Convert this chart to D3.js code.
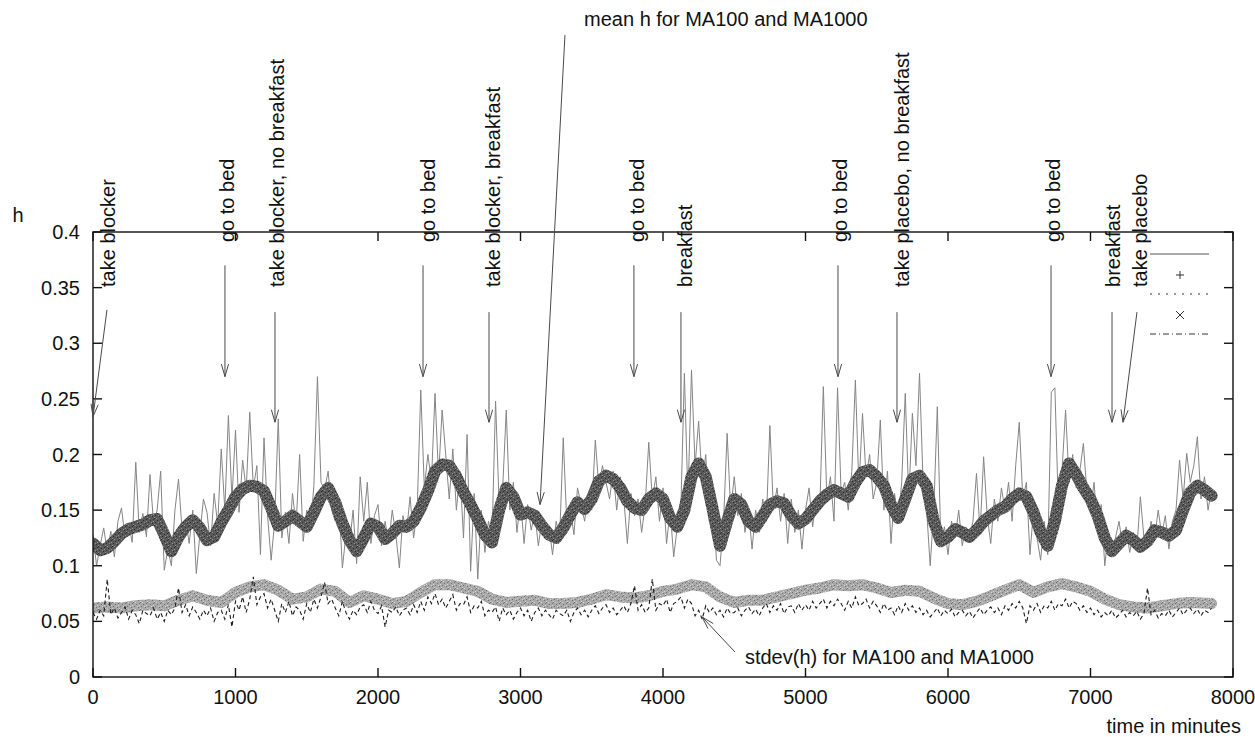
<!DOCTYPE html>
<html><head><meta charset="utf-8">
<script src="https://cdn.jsdelivr.net/npm/d3@7"></script>
<style>
html,body{margin:0;padding:0;background:#fff;}
svg{display:block;font-family:"Liberation Sans",Arial,Helvetica,sans-serif;}
</style></head><body>
<svg id="chart" width="1255" height="737"></svg>
<script>
// ---- axis ticks ----
const xTicks = [0, 1000, 2000, 3000, 4000, 5000, 6000, 7000, 8000];
const yTicks = [0, 0.05, 0.1, 0.15, 0.2, 0.25, 0.3, 0.35, 0.4];

// ---- series (h values, sampled every `step` minutes from t = 0) ----
const meanMA100Step = 25;
const meanMA100 = [
0.128,0.100,0.118,0.134, 0.113,0.131,0.108,0.140, 0.152,0.125,0.138,0.121, 0.193,0.130,0.147,0.126,
0.182,0.138,0.150,0.185, 0.096,0.115,0.100,0.150, 0.178,0.132,0.142,0.120, 0.150,0.093,0.128,0.160,
0.148,0.118,0.165,0.137, 0.205,0.150,0.235,0.160, 0.222,0.148,0.195,0.168, 0.238,0.170,0.190,0.110,
0.215,0.145,0.105,0.140, 0.232,0.125,0.148,0.120, 0.165,0.136,0.200,0.122, 0.150,0.132,0.172,0.270,
0.175,0.168,0.185,0.150, 0.140,0.160,0.098,0.128, 0.118,0.150,0.102,0.180, 0.140,0.175,0.120,0.145,
0.155,0.118,0.140,0.120, 0.150,0.128,0.098,0.145, 0.130,0.162,0.125,0.150, 0.258,0.170,0.200,0.176,
0.255,0.180,0.240,0.200, 0.160,0.205,0.150,0.185, 0.125,0.218,0.095,0.165, 0.088,0.150,0.112,0.140,
0.125,0.248,0.155,0.170, 0.240,0.150,0.175,0.130, 0.160,0.120,0.155,0.132, 0.148,0.118,0.140,0.125,
0.135,0.110,0.140,0.126, 0.215,0.138,0.150,0.128, 0.170,0.155,0.140,0.165, 0.150,0.213,0.170,0.190,
0.175,0.160,0.185,0.150, 0.180,0.160,0.120,0.165, 0.145,0.160,0.130,0.155, 0.211,0.160,0.180,0.140,
0.170,0.120,0.150,0.108, 0.135,0.150,0.273,0.160, 0.276,0.190,0.230,0.175, 0.200,0.140,0.165,0.105,
0.100,0.140,0.219,0.150, 0.180,0.145,0.165,0.130, 0.150,0.115,0.150,0.130, 0.160,0.140,0.226,0.150,
0.170,0.140,0.165,0.120, 0.160,0.130,0.150,0.115, 0.150,0.170,0.135,0.160, 0.150,0.261,0.160,0.180,
0.140,0.260,0.165,0.175, 0.150,0.185,0.267,0.170, 0.237,0.180,0.200,0.160, 0.175,0.231,0.150,0.185,
0.120,0.165,0.140,0.175, 0.255,0.160,0.237,0.190, 0.273,0.175,0.150,0.100, 0.150,0.243,0.120,0.135,
0.110,0.140,0.125,0.150, 0.118,0.135,0.125,0.140, 0.183,0.130,0.198,0.145, 0.120,0.160,0.140,0.170,
0.150,0.175,0.140,0.190, 0.229,0.160,0.175,0.110, 0.150,0.125,0.105,0.140, 0.110,0.256,0.260,0.150,
0.185,0.240,0.175,0.200, 0.170,0.185,0.210,0.165, 0.150,0.175,0.130,0.155, 0.100,0.130,0.108,0.125,
0.140,0.118,0.135,0.112, 0.130,0.115,0.162,0.125, 0.118,0.140,0.125,0.150, 0.128,0.145,0.115,0.140,
0.150,0.195,0.160,0.201, 0.175,0.190,0.216,0.160, 0.180,0.150,0.170
];

const meanMA1000Step = 50;
const meanMA1000 = [
0.120,0.114,0.116,0.122,0.129,0.133,0.135,0.137,0.141,0.142,0.128,0.113,0.126,0.135,0.141,0.134,
0.123,0.126,0.139,0.150,0.162,0.169,0.172,0.171,0.167,0.152,0.136,0.140,0.145,0.140,0.135,0.148,
0.162,0.170,0.157,0.138,0.123,0.113,0.125,0.138,0.135,0.124,0.129,0.136,0.135,0.140,0.152,0.167,
0.185,0.191,0.190,0.180,0.166,0.155,0.142,0.128,0.121,0.150,0.170,0.162,0.146,0.148,0.145,0.136,
0.128,0.125,0.134,0.146,0.157,0.151,0.160,0.176,0.181,0.178,0.170,0.158,0.152,0.150,0.160,0.165,
0.160,0.143,0.135,0.150,0.180,0.192,0.180,0.150,0.118,0.140,0.160,0.155,0.140,0.135,0.145,0.155,
0.158,0.156,0.145,0.138,0.142,0.150,0.158,0.164,0.168,0.165,0.162,0.175,0.184,0.186,0.180,0.172,
0.155,0.143,0.160,0.178,0.181,0.172,0.140,0.122,0.126,0.133,0.130,0.126,0.132,0.140,0.145,0.150,
0.153,0.160,0.165,0.162,0.148,0.130,0.118,0.140,0.172,0.192,0.182,0.170,0.160,0.145,0.125,0.113,
0.120,0.127,0.123,0.117,0.122,0.132,0.130,0.127,0.132,0.150,0.166,0.172,0.168,0.163
];

const stdevMA100Step = 25;
const stdevMA100 = [
0.058,0.052,0.060,0.055, 0.088,0.056,0.062,0.053, 0.058,0.063,0.052,0.060, 0.056,0.048,0.060,0.057,
0.055,0.062,0.052,0.058, 0.050,0.060,0.056,0.062, 0.080,0.058,0.065,0.055, 0.063,0.058,0.052,0.060,
0.055,0.062,0.050,0.058, 0.060,0.052,0.065,0.045, 0.068,0.060,0.072,0.058, 0.070,0.090,0.065,0.072,
0.075,0.062,0.070,0.060, 0.050,0.066,0.058,0.068, 0.055,0.063,0.060,0.052, 0.066,0.058,0.070,0.062,
0.072,0.085,0.066,0.070, 0.062,0.055,0.068,0.058, 0.052,0.060,0.056,0.063, 0.065,0.058,0.068,0.060,
0.057,0.064,0.045,0.060, 0.058,0.063,0.055,0.060, 0.062,0.056,0.065,0.058, 0.068,0.060,0.072,0.066,
0.075,0.065,0.070,0.062, 0.068,0.074,0.060,0.066, 0.065,0.072,0.058,0.064, 0.062,0.068,0.055,0.060,
0.058,0.063,0.050,0.062, 0.056,0.060,0.052,0.058, 0.062,0.055,0.060,0.050, 0.058,0.062,0.055,0.060,
0.056,0.052,0.060,0.057, 0.055,0.060,0.050,0.058, 0.062,0.056,0.060,0.054, 0.060,0.064,0.057,0.062,
0.065,0.058,0.062,0.056, 0.060,0.064,0.058,0.066, 0.082,0.060,0.065,0.058, 0.062,0.088,0.060,0.066,
0.064,0.070,0.058,0.066, 0.068,0.072,0.062,0.070, 0.066,0.055,0.060,0.052, 0.064,0.058,0.062,0.056,
0.060,0.054,0.062,0.057, 0.058,0.062,0.055,0.060, 0.063,0.057,0.061,0.055, 0.062,0.066,0.058,0.064,
0.060,0.066,0.057,0.063, 0.064,0.058,0.066,0.060, 0.065,0.060,0.068,0.062, 0.066,0.070,0.062,0.068,
0.064,0.070,0.066,0.060, 0.068,0.062,0.072,0.064, 0.066,0.070,0.062,0.068, 0.064,0.058,0.066,0.060,
0.062,0.056,0.064,0.058, 0.066,0.060,0.064,0.058, 0.062,0.056,0.060,0.054, 0.058,0.062,0.055,0.060,
0.057,0.061,0.054,0.058, 0.060,0.055,0.059,0.053, 0.058,0.062,0.056,0.060, 0.063,0.058,0.062,0.056,
0.064,0.060,0.066,0.062, 0.068,0.062,0.048,0.064, 0.060,0.066,0.058,0.064, 0.062,0.068,0.060,0.066,
0.064,0.070,0.062,0.068, 0.066,0.060,0.064,0.058, 0.062,0.056,0.060,0.054, 0.058,0.055,0.060,0.053,
0.056,0.060,0.054,0.058, 0.055,0.059,0.052,0.057, 0.080,0.056,0.060,0.053, 0.057,0.055,0.060,0.054,
0.058,0.062,0.056,0.060, 0.062,0.057,0.061,0.055, 0.060,0.058,0.062
];

const stdevMA1000Step = 100;
const stdevMA1000 = [
0.062,0.063,0.062,0.064,0.065,0.064,0.069,0.073,0.069,0.067,0.076,0.081,0.083,0.078,0.070,0.072,
0.079,0.077,0.067,0.073,0.070,0.066,0.068,0.076,0.083,0.083,0.080,0.077,0.070,0.067,0.068,0.069,
0.066,0.066,0.067,0.070,0.074,0.072,0.071,0.073,0.077,0.079,0.083,0.081,0.072,0.067,0.069,0.069,
0.072,0.075,0.078,0.080,0.083,0.082,0.083,0.080,0.076,0.078,0.077,0.071,0.066,0.065,0.068,0.073,
0.078,0.083,0.076,0.081,0.084,0.081,0.077,0.070,0.065,0.063,0.062,0.064,0.066,0.067,0.066
];

// ---- event annotations (time in minutes, h) ----
const eventLabels = ["take blocker", "go to bed", "take blocker, no breakfast", "go to bed",
  "take blocker, breakfast", "go to bed", "breakfast", "go to bed",
  "take placebo, no breakfast", "go to bed", "breakfast", "take placebo"];
const eventLabelTime = [105, 940, 1291, 2351, 2807, 3818, 4154, 5242, 5677, 6737, 7158, 7347];
const eventLabelH    = [0.3506, 0.391, 0.3506, 0.391, 0.3506, 0.391, 0.3506, 0.391, 0.3506, 0.391, 0.3506, 0.3506];
const eventArrowStart = [[98, 0.330], [926, 0.370], [1277, 0.328], [2316, 0.370], [2779, 0.328], [3796, 0.370],
  [4126, 0.328], [5228, 0.370], [5642, 0.328], [6723, 0.370], [7151, 0.328], [7326, 0.328]];
const eventArrowEnd = [[0, 0.234], [926, 0.270], [1277, 0.229], [2316, 0.270], [2779, 0.229], [3796, 0.270],
  [4126, 0.229], [5228, 0.270], [5642, 0.229], [6723, 0.270], [7151, 0.229], [7228, 0.229]];

const seriesLabels = ["mean h for MA100 and MA1000", "stdev(h) for MA100 and MA1000"];
const seriesLabelPos = [[3446, 0.585], [4575, 0.0117]];
const seriesArrowStart = [[3312, 0.577], [4505, 0.0225]];
const seriesArrowEnd = [[3137, 0.155], [4274, 0.054]];

// ---- layout ----
const svg = d3.select("#chart");
const mLeft = 93, mRight = 1233, mTop = 232, mBottom = 677;
const x = d3.scaleLinear().domain([0, 8000]).range([mLeft, mRight]);
const y = d3.scaleLinear().domain([0, 0.4]).range([mBottom, mTop]);
const FS = 20;

// grain textures for the thick point bands
const defs = svg.append("defs");
function grain(id, base, dark, light) {
  const p = defs.append("pattern").attr("id", id).attr("patternUnits", "userSpaceOnUse")
    .attr("width", 7).attr("height", 7);
  p.append("rect").attr("width", 7).attr("height", 7).attr("fill", base);
  [[0,0],[3,2],[5,5],[1,4],[6,1]].forEach(d => p.append("rect").attr("x", d[0]).attr("y", d[1]).attr("width", 1).attr("height", 1).attr("fill", dark));
  [[2,0],[4,4],[0,6],[6,3]].forEach(d => p.append("rect").attr("x", d[0]).attr("y", d[1]).attr("width", 1).attr("height", 1).attr("fill", light));
}
grain("grainDark", "#5a5a5a", "#2e2e2e", "#909090");
grain("grainLight", "#a9a9a9", "#727272", "#d4d4d4");

defs.append("clipPath").attr("id", "plotClip").append("rect")
  .attr("x", mLeft).attr("y", mTop).attr("width", mRight - mLeft).attr("height", mBottom - mTop);

const plot = svg.append("g").attr("clip-path", "url(#plotClip)");
const line = d3.line().x(d => x(d[0])).y(d => y(d[1]));
const pts = (arr, step) => arr.map((v, i) => [i * step, v]);
const stdevMA1000Time = stdevMA1000.map((v, i) => i * stdevMA1000Step);
stdevMA1000Time[stdevMA1000Time.length - 1] = 7850;

// mean h, MA100 (thin noisy line)
plot.append("path").attr("d", line(pts(meanMA100, meanMA100Step)))
  .attr("fill", "none").attr("stroke", "#858585").attr("stroke-width", 1);
// mean h, MA1000 (dense points -> dark band)
plot.append("path").attr("d", line(pts(meanMA1000, meanMA1000Step)))
  .attr("fill", "none").attr("stroke", "url(#grainDark)").attr("stroke-width", 12)
  .attr("stroke-linejoin", "round").attr("stroke-linecap", "round");
// stdev, MA1000 (light band)
plot.append("path").attr("d", line(stdevMA1000.map((v, i) => [stdevMA1000Time[i], v])))
  .attr("fill", "none").attr("stroke", "url(#grainLight)").attr("stroke-width", 11)
  .attr("stroke-linejoin", "round").attr("stroke-linecap", "round");
// stdev, MA100 (dashed noisy line)
plot.append("path").attr("d", line(pts(stdevMA100, stdevMA100Step)))
  .attr("fill", "none").attr("stroke", "#1e1e1e").attr("stroke-width", 1.1)
  .attr("stroke-dasharray", "4,3");

// ---- border and ticks (mirrored, inward) ----
const axes = svg.append("g").attr("stroke", "#111").attr("stroke-width", 1.4);
axes.append("rect").attr("x", mLeft).attr("y", mTop).attr("width", mRight - mLeft).attr("height", mBottom - mTop)
  .attr("fill", "none");
const TL = 9;
xTicks.forEach(t => {
  axes.append("line").attr("x1", x(t)).attr("x2", x(t)).attr("y1", mBottom).attr("y2", mBottom - TL);
  axes.append("line").attr("x1", x(t)).attr("x2", x(t)).attr("y1", mTop).attr("y2", mTop + TL);
});
yTicks.forEach(t => {
  axes.append("line").attr("x1", mLeft).attr("x2", mLeft + TL).attr("y1", y(t)).attr("y2", y(t));
  axes.append("line").attr("x1", mRight).attr("x2", mRight - TL).attr("y1", y(t)).attr("y2", y(t));
});

const txt = svg.append("g").attr("fill", "#111").attr("font-size", FS);
txt.selectAll(".xt").data(xTicks).join("text").attr("class", "xt")
  .attr("x", d => x(d)).attr("y", mBottom + 27).attr("text-anchor", "middle").text(d => d);
txt.selectAll(".yt").data(yTicks).join("text").attr("class", "yt")
  .attr("x", mLeft - 13).attr("y", d => y(d)).attr("dy", "0.35em").attr("text-anchor", "end")
  .text(d => String(+d.toFixed(2)));
txt.append("text").attr("x", 18).attr("y", 215).attr("dy", "0.35em").attr("text-anchor", "middle").text("h");
txt.append("text").attr("x", 1241).attr("y", 733).attr("text-anchor", "end").text("time in minutes");

// ---- arrows ----
const arrows = svg.append("g").attr("fill", "none").attr("stroke", "#4a4a4a").attr("stroke-width", 1);
function arrow(from, to) {
  const x1 = x(from[0]), y1 = y(from[1]), x2 = x(to[0]), y2 = y(to[1]);
  const a = Math.atan2(y2 - y1, x2 - x1), L = 13, phi = 0.28;
  arrows.append("line").attr("x1", x1).attr("y1", y1).attr("x2", x2).attr("y2", y2);
  arrows.append("path").attr("d",
    `M${x2 - L * Math.cos(a - phi)},${y2 - L * Math.sin(a - phi)}L${x2},${y2}L${x2 - L * Math.cos(a + phi)},${y2 - L * Math.sin(a + phi)}`);
}
eventArrowStart.forEach((s, i) => arrow(s, eventArrowEnd[i]));
seriesArrowStart.forEach((s, i) => arrow(s, seriesArrowEnd[i]));

// ---- event labels (rotated) ----
eventLabels.forEach((lab, i) => {
  const px = x(eventLabelTime[i]), py = y(eventLabelH[i]);
  txt.append("text").attr("transform", `translate(${px},${py}) rotate(-90)`)
    .attr("dy", "0.35em").text(lab);
});
seriesLabels.forEach((lab, i) => {
  txt.append("text").attr("x", x(seriesLabelPos[i][0])).attr("y", y(seriesLabelPos[i][1])).text(lab);
});

// ---- key ----
const key = svg.append("g").attr("stroke", "#333").attr("fill", "none");
const kx1 = 1150, kx2 = 1209;
key.append("line").attr("x1", kx1).attr("x2", kx2).attr("y1", 254).attr("y2", 254).attr("stroke", "#555");
key.append("path").attr("d", "M1176,275h8M1180,271v8");
key.append("line").attr("x1", kx1).attr("x2", kx2).attr("y1", 294).attr("y2", 294).attr("stroke-dasharray", "2,6");
key.append("path").attr("d", "M1176,311l8,8M1184,311l-8,8");
key.append("line").attr("x1", kx1).attr("x2", kx2).attr("y1", 334).attr("y2", 334).attr("stroke-dasharray", "6,3,1,3");
</script>
</body></html>
